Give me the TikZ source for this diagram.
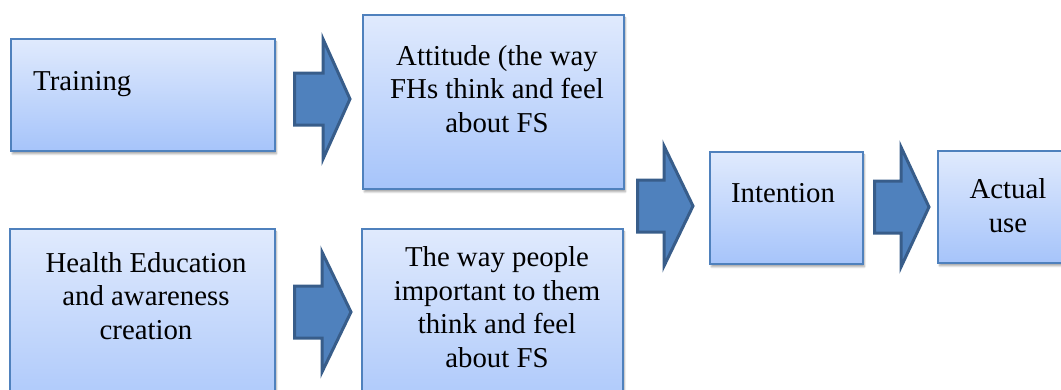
\documentclass[tikz,border=0pt]{standalone}
\usepackage{fontspec}
\setmainfont{Liberation Serif}
\usetikzlibrary{shadows.blur}
\definecolor{boxtop}{HTML}{E0EAFD}
\definecolor{boxbot}{HTML}{A6C4FA}
\definecolor{boxline}{HTML}{4F81BD}
\definecolor{arrfill}{HTML}{4F81BD}
\definecolor{arrline}{HTML}{385D8A}
\tikzset{
  stagebox/.style={draw=boxline, line width=1.8pt, top color=boxtop, bottom color=boxbot,
    anchor=north west, inner sep=0pt,
    blur shadow={shadow xshift=1.5pt, shadow yshift=-3pt, shadow blur steps=6, shadow opacity=35}},
  % base anchor sits on the last line's baseline
  stagetext/.style={font=\fontsize{28.8}{33.4}\selectfont, align=center, inner sep=0pt, anchor=base},
  blockarrow/.style={fill=arrfill, draw=arrline, line width=3pt, line join=miter}
}
% block arrow: shaft start x, head base x, tip x, centre y, tip name
\newcommand{\blockarrow}[5]{%
  \draw[blockarrow] (#1,{#4-26}) -- (#2,{#4-26}) -- (#2,{#4-60}) -- (#3,#4)
    -- (#2,{#4+60}) -- (#2,{#4+26}) -- (#1,{#4+26}) -- cycle;
  \coordinate (#5) at (#3,#4);}
\begin{document}
\begin{tikzpicture}[x=1pt,y=-1pt]
\useasboundingbox (0,0) rectangle (1061,389);
\clip (0,0) rectangle (1061,389);

% stage boxes
\node[stagebox, minimum width=264pt, minimum height=112pt] (train) at (10,38) {};
\node[stagebox, minimum width=261pt, minimum height=174pt] (att) at (362,14) {};
\node[stagebox, minimum width=265pt, minimum height=200pt] (health) at (9,228) {};
\node[stagebox, minimum width=261pt, minimum height=200pt] (people) at (361,228) {};
\node[stagebox, minimum width=153pt, minimum height=112pt] (intent) at (709,151) {};
\node[stagebox, minimum width=170pt, minimum height=112pt] (actual) at (937,150) {};

% labels
\node[stagetext, anchor=base west] (ttrain) at (33,90) {Training};
\node[stagetext] (tatt) at (497,132) {Attitude (the way\\FHs think and feel\\about FS};
\node[stagetext] (thealth) at (146,339) {Health Education\\and awareness\\creation};
\node[stagetext] (tpeople) at (497,367) {The way people\\important to them\\think and feel\\about FS};
\node[stagetext] (tintent) at (783,202) {Intention};
\node[stagetext] (tactual) at (1008,232) {Actual\\use};

% block arrows between stages
\blockarrow{294.5}{323}{350}{99}{a1}
\blockarrow{294.5}{322}{351}{312}{a2}
\blockarrow{637.5}{664}{693}{206}{a3}
\blockarrow{874.5}{901}{929}{207}{a4}
\end{tikzpicture}
\end{document}
